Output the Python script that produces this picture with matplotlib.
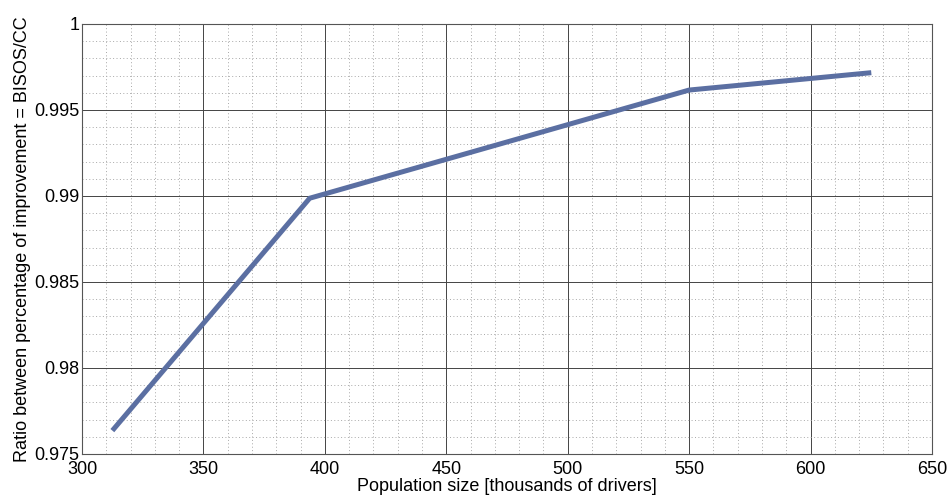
import matplotlib
matplotlib.use("Agg")
import matplotlib.pyplot as plt
from matplotlib.ticker import MultipleLocator

# Population size (thousands of drivers) and BISOS/CC improvement ratio
population = [312.5, 393.75, 550, 625]
ratio = [0.97636, 0.98987, 0.99616, 0.99717]

x_ticks = [300, 350, 400, 450, 500, 550, 600, 650]
y_ticks = [0.975, 0.98, 0.985, 0.99, 0.995, 1.0]
y_tick_labels = ["0.975", "0.98", "0.985", "0.99", "0.995", "1"]

plt.rcParams['font.family'] = ['Liberation Sans', 'DejaVu Sans']

fig = plt.figure(figsize=(9.52, 4.97), dpi=100)
ax = fig.add_axes([82 / 952, 1 - 454 / 497, 850 / 952, 430 / 497])

ax.plot(population, ratio, color="#5b6fa2", linewidth=3.6, solid_capstyle="butt",
        solid_joinstyle="miter", zorder=3)

ax.set_xlim(300, 650)
ax.set_ylim(0.975, 1.0)
ax.set_xticks(x_ticks)
ax.set_yticks(y_ticks)
ax.set_yticklabels(y_tick_labels)
ax.xaxis.set_minor_locator(MultipleLocator(10))
ax.yaxis.set_minor_locator(MultipleLocator(0.001))

ax.grid(which="major", color="#444444", linestyle="-", linewidth=0.7, zorder=1)
ax.grid(which="minor", color="#a8a8a8", linestyle=(0, (1, 2.5)), linewidth=0.7, zorder=0)
ax.set_axisbelow(True)

for s in ax.spines.values():
    s.set_color("#555555")
    s.set_linewidth(0.8)

ax.tick_params(which="both", length=0, labelsize=13, colors="black", pad=2)
ax.tick_params(axis="x", pad=5)

ax.set_xlabel("Population size [thousands of drivers]", fontsize=13, labelpad=0)
ax.set_ylabel("Ratio between percentage of improvement = BISOS/CC", fontsize=13, labelpad=2)

fig.savefig("out.png", dpi=100)
